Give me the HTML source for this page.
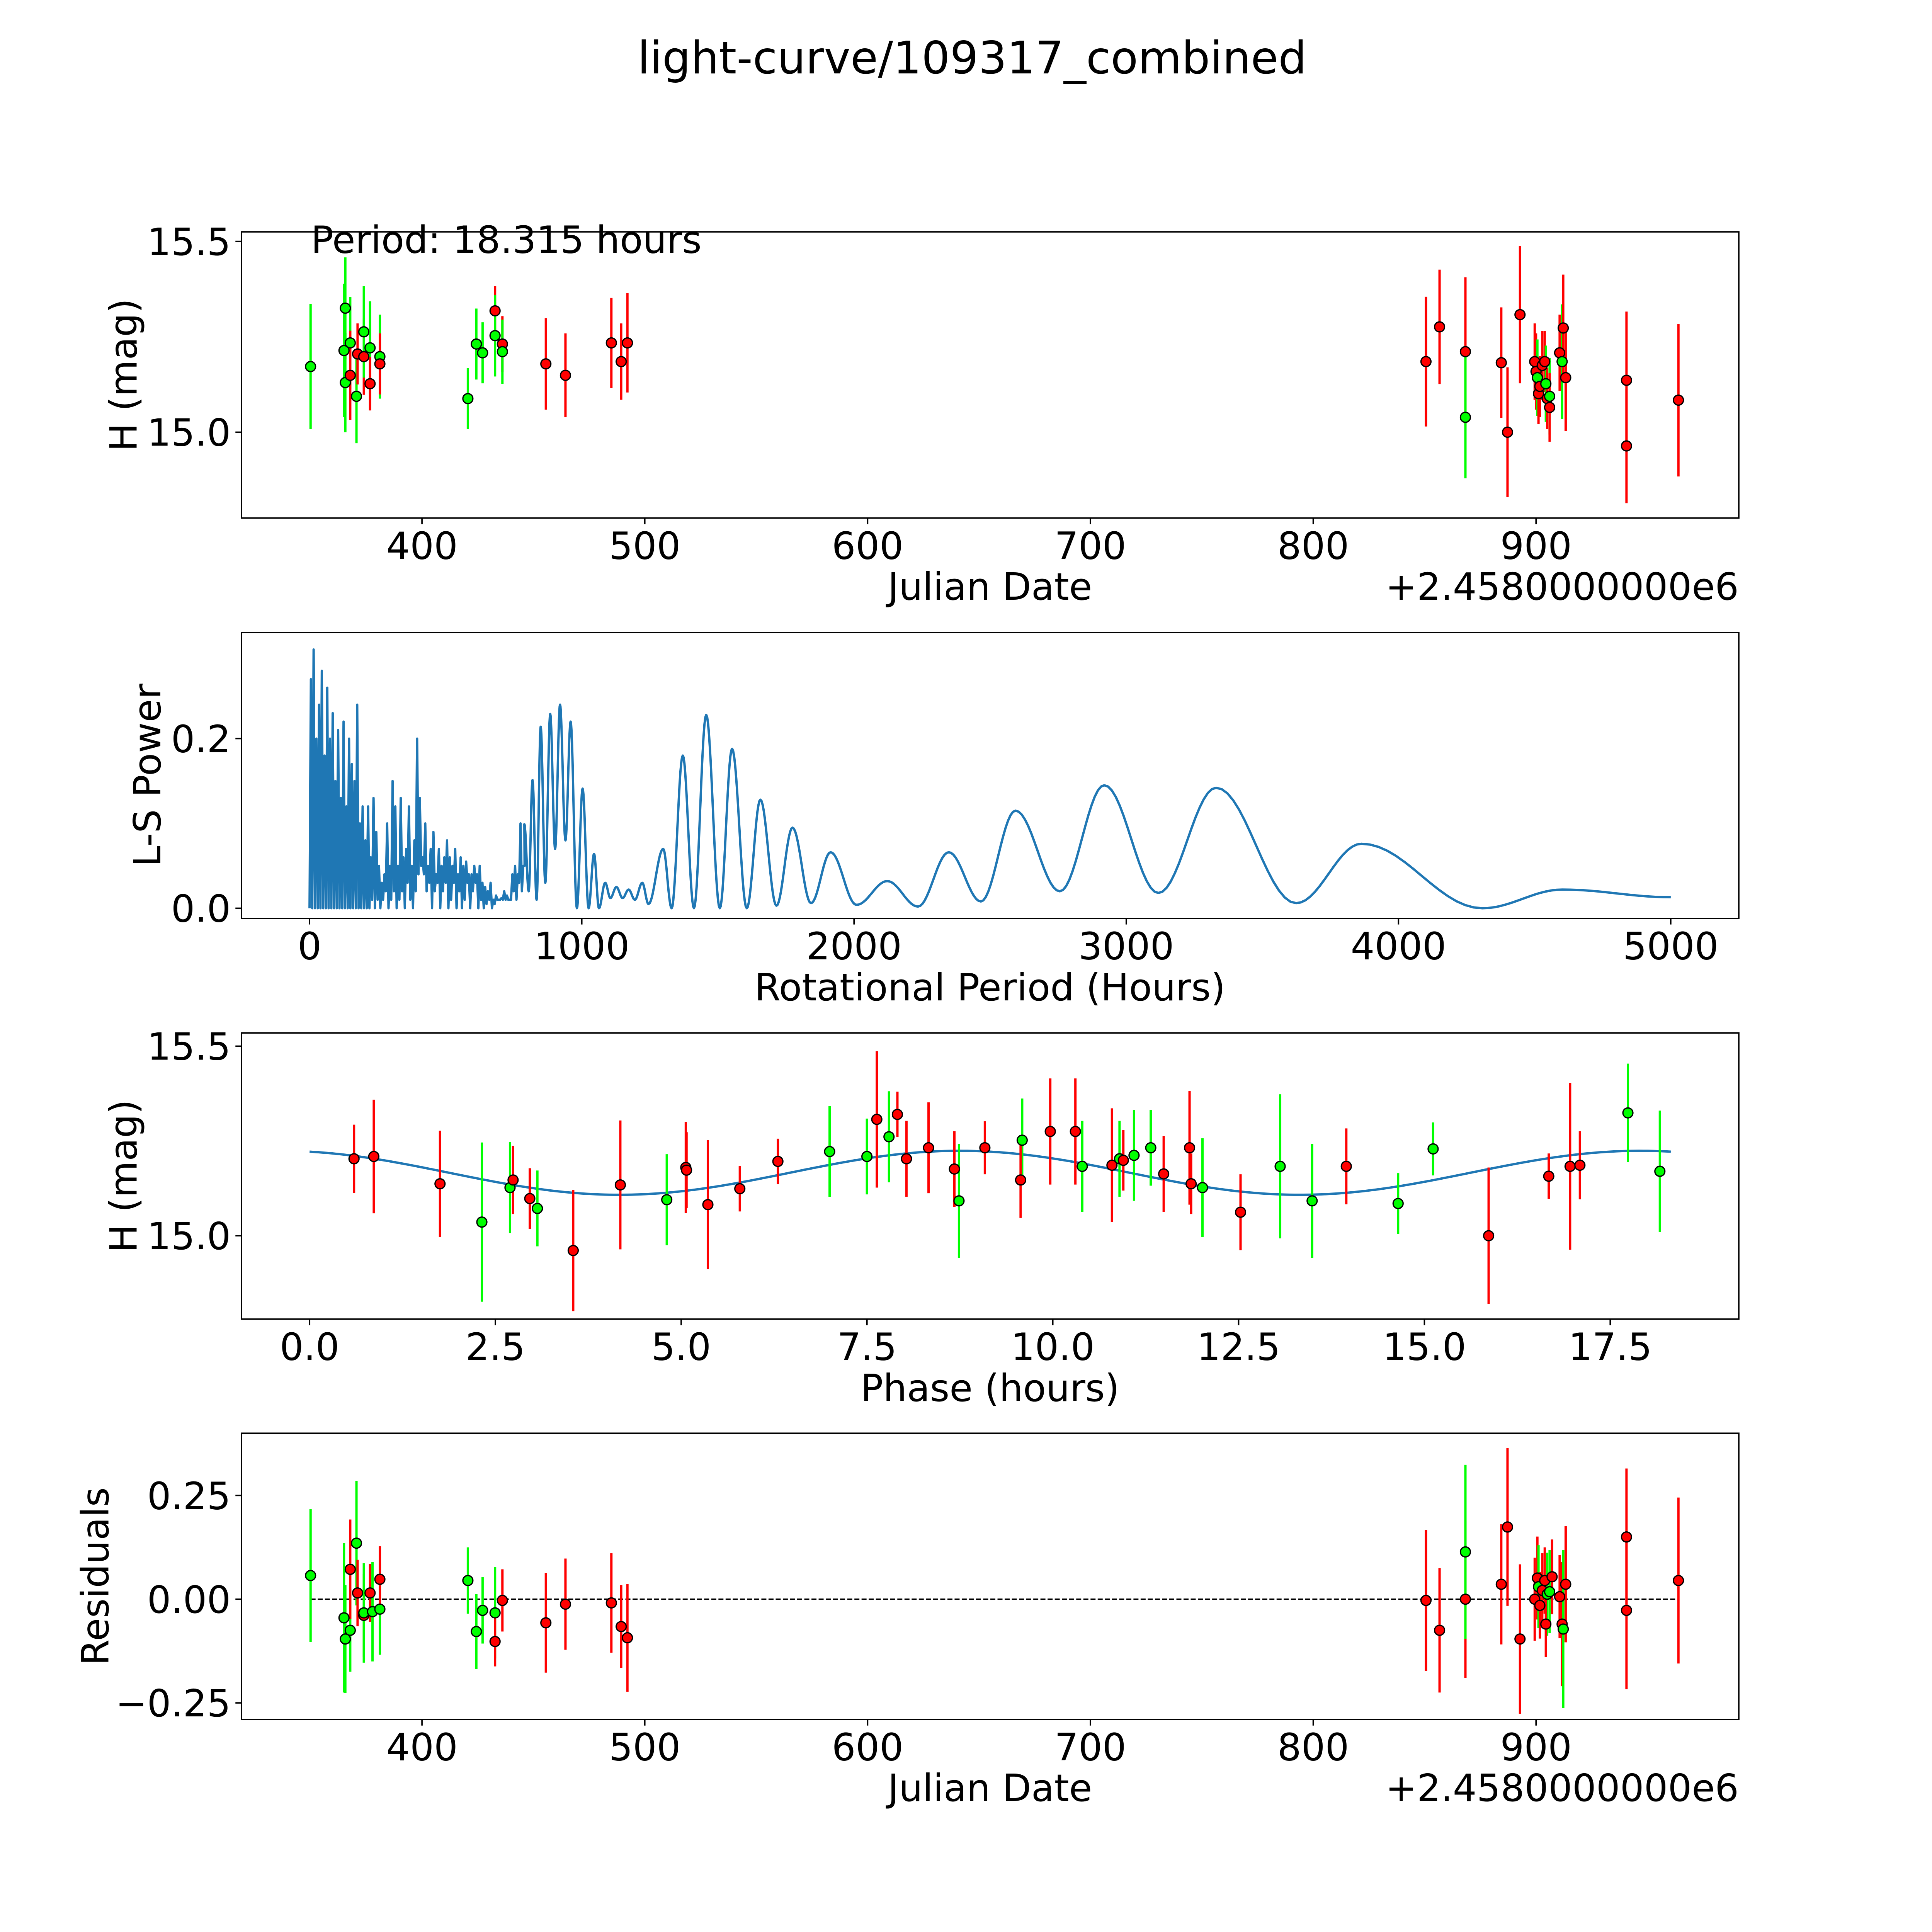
<!DOCTYPE html>
<html><head><meta charset="utf-8"><style>
html,body{margin:0;padding:0;background:#fff;overflow:hidden;width:100%;height:100%;}
svg{display:block;position:absolute;left:0;top:0;width:100vw;height:100vh;}
text{font-family:"DejaVu Sans","Liberation Sans",sans-serif;fill:#000;}
</style></head><body>
<svg id="fig" viewBox="0 0 5400 5400" preserveAspectRatio="none" xmlns="http://www.w3.org/2000/svg">
<rect width="5400" height="5400" fill="#fff"/>
<text x="2717" y="205" font-size="125" text-anchor="middle">light-curve/109317_combined</text>
</svg>
<script>
// ---- Panel 1: light curve (Julian Date) ----
const lcX=[350.0,365.6,365.0,365.6,367.8,367.8,370.6,371.1,373.9,373.9,376.7,376.7,381.1,381.1,420.6,424.4,427.2,432.8,432.8,436.1,436.1,455.6,464.4,485.0,489.4,492.2,850.6,856.7,868.3,868.3,884.4,887.2,892.8,899.4,900.0,900.6,901.1,901.7,902.8,903.9,904.4,905.0,906.1,906.1,910.6,911.7,912.2,913.3,940.6,940.6,963.9];
const lcY=[15.172,15.325,15.214,15.130,15.234,15.149,15.094,15.205,15.198,15.263,15.221,15.127,15.198,15.179,15.088,15.231,15.208,15.318,15.253,15.231,15.211,15.179,15.149,15.234,15.185,15.234,15.185,15.276,15.211,15.039,15.182,15.000,15.308,15.185,15.159,15.143,15.101,15.120,15.175,15.185,15.127,15.088,15.094,15.065,15.208,15.185,15.273,15.143,15.136,14.964,15.084];
const lcErr=[0.164,0.133,0.175,0.13,0.12,0.117,0.123,0.08,0.1,0.12,0.122,0.07,0.11,0.08,0.08,0.093,0.08,0.065,0.107,0.073,0.084,0.12,0.11,0.118,0.1,0.13,0.17,0.15,0.195,0.16,0.145,0.17,0.18,0.1,0.1,0.1,0.08,0.08,0.09,0.08,0.1,0.08,0.1,0.09,0.1,0.15,0.14,0.14,0.18,0.15,0.2];
const lcBand=["g","g","g","g","g","r","g","r","r","g","g","r","g","r","g","g","g","r","g","r","g","r","r","r","r","r","r","r","r","g","r","r","r","r","r","g","r","r","r","r","g","r","g","r","r","g","r","r","r","r","r"];
const lcXTicks=[400,500,600,700,800,900];
const lcYTicks=[15.0,15.5];

// ---- Panel 2: periodogram ----
const spikePeriodStep=10;
const spikePower=[0.27,0.305,0.2,0.24,0.28,0.18,0.26,0.2,0.23,0.15,0.21,0.13,0.22,0.12,0.2,0.17,0.15,0.24,0.1,0.12,0.08,
0.12,0.06,0.13,0.09,0.05,0.03,0.04,0.1,0.05,0.15,0.12,0.05,0.13,0.06,0.07,0.12,0.05,0.08,0.2,0.13,
0.06,0.1,0.05,0.07,0.09,0.04,0.07,0.05,0.06,0.08,0.06,0.05,0.07,0.04,0.06,0.05,0.055,0.04,0.04,0.05,
0.04,0.05,0.03,0.025,0.02,0.03,0.01,0.015,0.01,0.012,0.02,0.015,0.01,0.04,0.05,0.04,0.1,0.05];
const spikeTrough=[0,0,0,0,0,0,0,0,0,0,0,0,0,0,0,0,0,0,0,0,0,
0,0.01,0,0.01,0,0.01,0.02,0,0.01,0.02,0,0.01,0.02,0,0.03,0.01,0,0.02,0.04,0.05,
0.04,0.02,0.03,0,0.02,0.03,0,0.02,0.03,0,0.01,0.03,0,0.02,0,0.01,0.03,0,0.02,0.03,
0,0.01,0,0.005,0.01,0,0.005,0.01,0.01,0.01,0.01,0.01,0.01,0.02,0.01,0.03,0.02,0.05];
const lsPeriod=[789,805,819,834,849,866,884,902,920,940,959,982,1003,1025,1045,1063,1086,1105,1127,1150,1172,1195,1222,1245,1299,1330,1371,1412,1457,1507,1552,1606,1656,1715,1774,1842,1914,2009,2122,2235,2348,2466,2593,2756,2919,3118,3330,3624,3864,4308,4602,5000];
const lsPower=[0.099,0.02,0.151,0.01,0.214,0.03,0.229,0.07,0.24,0.08,0.22,0,0.141,0,0.064,0,0.03,0.012,0.025,0.012,0.022,0.01,0.03,0.005,0.07,0,0.18,0,0.228,0,0.188,0,0.128,0.003,0.095,0.006,0.066,0.004,0.032,0.002,0.066,0.008,0.115,0.02,0.145,0.018,0.142,0.006,0.076,0,0.022,0.013];
const lsXTicks=[0,1000,2000,3000,4000,5000];
const lsYTicks=[0.0,0.2];

// ---- Panel 3: phased ----
const phX=[0.598,0.864,1.755,2.318,2.697,2.738,2.963,3.065,3.547,4.181,4.806,5.062,5.072,5.359,5.789,6.301,6.997,7.499,7.632,7.796,7.909,8.031,8.328,8.676,8.738,9.086,9.588,9.567,9.966,10.304,10.396,10.796,10.898,10.949,11.093,11.318,11.492,11.840,11.861,12.014,12.526,13.059,13.489,13.949,14.646,15.117,15.864,16.673,16.960,17.092,17.738,18.168];
const phY=[15.203,15.209,15.137,15.036,15.127,15.147,15.098,15.072,14.961,15.134,15.095,15.18,15.173,15.082,15.124,15.196,15.222,15.209,15.307,15.261,15.320,15.203,15.232,15.176,15.092,15.232,15.252,15.147,15.275,15.275,15.183,15.186,15.203,15.199,15.212,15.232,15.163,15.232,15.137,15.127,15.062,15.183,15.092,15.183,15.085,15.229,15.0,15.157,15.183,15.186,15.324,15.17];
const phErr=[0.09,0.15,0.14,0.21,0.12,0.09,0.08,0.1,0.16,0.17,0.12,0.12,0.1,0.17,0.06,0.06,0.12,0.1,0.18,0.12,0.06,0.1,0.12,0.1,0.15,0.07,0.11,0.1,0.14,0.14,0.12,0.15,0.1,0.08,0.12,0.1,0.1,0.15,0.08,0.13,0.1,0.19,0.15,0.1,0.08,0.07,0.18,0.06,0.22,0.09,0.13,0.16];
const phBand=["r","r","r","g","g","r","r","g","r","r","g","r","r","r","r","r","g","g","r","g","r","r","r","r","g","r","g","r","r","r","g","r","g","r","g","g","r","r","r","g","r","g","g","r","g","g","r","r","r","r","g","g"];
const fitMean=[15.166];
const fitAmp=[0.058];
const fitPeriod=[9.1575];
const fitPhase0=[-0.41];
const fitRange=[0,18.315];
const phXTicks=[0,2.5,5,7.5,10,12.5,15,17.5];
const phXLabels=["0.0","2.5","5.0","7.5","10.0","12.5","15.0","17.5"];

// ---- Panel 4: residuals ----
const rsX=[350.0,365.0,365.6,367.8,367.8,370.6,371.1,373.9,373.9,376.7,377.8,381.1,381.1,420.6,424.4,427.2,432.8,432.8,436.1,455.6,464.4,485.0,489.4,492.2,850.6,856.7,868.3,868.3,884.4,887.2,892.8,899.4,900.6,901.1,901.7,902.8,903.9,905.0,904.4,906.1,907.2,910.6,911.7,912.2,913.3,940.6,940.6,963.9];
const rsY=[0.057,-0.045,-0.096,-0.075,0.072,0.135,0.015,-0.039,-0.033,0.015,-0.03,-0.024,0.048,0.045,-0.078,-0.027,-0.033,-0.102,-0.003,-0.057,-0.012,-0.009,-0.066,-0.093,-0.003,-0.075,0,0.114,0.036,0.174,-0.096,0,0.051,0.03,-0.015,0.021,0.045,0.012,-0.06,0.018,0.054,0.006,-0.06,-0.072,0.036,0.15,-0.027,0.045];
const rsErr=[0.16,0.18,0.13,0.1,0.12,0.15,0.08,0.1,0.12,0.07,0.12,0.11,0.08,0.08,0.09,0.08,0.11,0.06,0.075,0.12,0.11,0.12,0.1,0.13,0.17,0.15,0.19,0.21,0.145,0.19,0.18,0.1,0.1,0.1,0.08,0.09,0.08,0.1,0.08,0.1,0.09,0.1,0.15,0.19,0.14,0.165,0.19,0.2];
const rsBand=["g","g","g","g","r","g","r","r","g","r","g","g","r","g","g","g","g","r","r","r","r","r","r","r","r","r","r","g","r","r","r","r","r","g","r","r","r","g","r","g","r","r","r","g","r","r","r","r"];
const rsYTicks=[-0.25,0,0.25];
const rsYLabels=["\u22120.25","0.00","0.25"];

const NS="http://www.w3.org/2000/svg";
const svg=document.getElementById('fig');
function mk(tag,attrs,parent){const e=document.createElementNS(NS,tag);for(const k in attrs)e.setAttribute(k,attrs[k]);(parent||svg).appendChild(e);return e;}
const L=675,R=4860,FS=105;
function axis(top,bottom,xmin,xmax,ymin,ymax){
  return {top,bottom,sx:v=>L+(v-xmin)/(xmax-xmin)*(R-L),sy:v=>bottom-(v-ymin)/(ymax-ymin)*(bottom-top)};
}
const col={g:"#00ff00",r:"#ff0000"};
function frame(ax,name,g){
  const f=mk('rect',{x:L,y:ax.top,width:R-L,height:ax.bottom-ax.top,fill:'none',stroke:'#000','stroke-width':4},g);
  
  
}
function xticks(ax,ticks,labels,g,name){
  ticks.forEach((t,i)=>{const x=ax.sx(t);
    const l=mk('line',{x1:x,x2:x,y1:ax.bottom,y2:ax.bottom+17,stroke:'#000','stroke-width':4},g);
    
    
    const tx=mk('text',{x:x,y:ax.bottom+114,'font-size':FS,'text-anchor':'middle'},g);
    tx.textContent=labels[i];
    
    
  });
}
function yticks(ax,ticks,labels,g,name){
  ticks.forEach((t,i)=>{const y=ax.sy(t);
    const l=mk('line',{x1:L-17,x2:L,y1:y,y2:y,stroke:'#000','stroke-width':4},g);
    
    
    const tx=mk('text',{x:L-30,y:y+38,'font-size':FS,'text-anchor':'end'},g);
    tx.textContent=labels[i];
    
    
  });
}
function label(txt,x,y,rot,g,name,anchor){
  const t=mk('text',{x:x,y:y,'font-size':FS,'text-anchor':anchor||'middle'},g);
  if(rot)t.setAttribute('transform','rotate(-90 '+x+' '+y+')');
  t.textContent=txt;
  
  
  return t;
}
function points(ax,xs,ys,es,bands,g,name){
  xs.forEach((xv,i)=>{const x=ax.sx(xv);
    const l=mk('line',{x1:x,x2:x,y1:ax.sy(ys[i]+es[i]),y2:ax.sy(ys[i]-es[i]),stroke:col[bands[i]],'stroke-width':6.5},g);
    
    
  });
  xs.forEach((xv,i)=>{
    const c=mk('circle',{cx:ax.sx(xv),cy:ax.sy(ys[i]),r:14,fill:col[bands[i]],stroke:'#000','stroke-width':3.5},g);
    
    
  });
}
function group(name){const g=mk('g',{});return g;}

// Panel 1
const g1=group('light-curve-panel');
const a1=axis(648,1448,319,991,14.775,15.525);
points(a1,lcX,lcY,lcErr,lcBand,g1,'light-curve');
frame(a1,'light-curve',g1);
xticks(a1,lcXTicks,lcXTicks.map(String),g1,'light-curve');
yticks(a1,lcYTicks,lcYTicks.map(v=>v.toFixed(1)),g1,'light-curve');
label('Julian Date',2767,1676,false,g1,'light-curve-x-axis-title');
label('+2.4580000000e6',4860,1676,false,g1,'light-curve-x-offset-text','end');
label('H (mag)',382,1048,true,g1,'light-curve-y-axis-title');
label('Period: 18.315 hours',869,707,false,g1,'period-annotation','start');

// Panel 2
const g2=group('periodogram-panel');
const a2=axis(1768,2567,-250,5250,-0.012,0.325);
let d='M'+a2.sx(0)+' '+a2.sy(0);
spikePower.forEach((p,i)=>{const x0=i*spikePeriodStep;
  d+=' L'+a2.sx(x0+spikePeriodStep*0.5).toFixed(1)+' '+a2.sy(p).toFixed(1)+' L'+a2.sx(x0+spikePeriodStep).toFixed(1)+' '+a2.sy(spikeTrough[i]).toFixed(1);});
for(let i=0;i<lsPeriod.length;i++){
  if(i===0){d+=' L'+a2.sx(lsPeriod[0])+' '+a2.sy(lsPower[0]);continue;}
  const x0=lsPeriod[i-1],x1=lsPeriod[i],y0=lsPower[i-1],y1=lsPower[i];
  for(let k=1;k<=14;k++){const t=k/14,s=(1-Math.cos(Math.PI*t))/2;
    d+=' L'+a2.sx(x0+(x1-x0)*t).toFixed(1)+' '+a2.sy(y0+(y1-y0)*s).toFixed(1);}
}
const ls=mk('path',{d:d,fill:'none',stroke:'#1f77b4','stroke-width':6.5,'stroke-linejoin':'round'},g2);


frame(a2,'periodogram',g2);
xticks(a2,lsXTicks,lsXTicks.map(String),g2,'periodogram');
yticks(a2,lsYTicks,lsYTicks.map(v=>v.toFixed(1)),g2,'periodogram');
label('Rotational Period (Hours)',2767,2796,false,g2,'periodogram-x-axis-title');
label('L-S Power',448,2167,true,g2,'periodogram-y-axis-title');

// Panel 3
const g3=group('phased-panel');
const a3=axis(2887,3687,-0.916,19.23,14.78,15.535);
let fd='';
for(let k=0;k<=300;k++){const t=fitRange[0]+(fitRange[1]-fitRange[0])*k/300;
  const v=fitMean[0]+fitAmp[0]*Math.cos(2*Math.PI*(t-fitPhase0[0])/fitPeriod[0]);
  fd+=(k?' L':'M')+a3.sx(t).toFixed(1)+' '+a3.sy(v).toFixed(1);}
const fit=mk('path',{d:fd,fill:'none',stroke:'#1f77b4','stroke-width':6.5},g3);


points(a3,phX,phY,phErr,phBand,g3,'phased');
frame(a3,'phased',g3);
xticks(a3,phXTicks,phXLabels,g3,'phased');
yticks(a3,lcYTicks,lcYTicks.map(v=>v.toFixed(1)),g3,'phased');
label('Phase (hours)',2767,3916,false,g3,'phased-x-axis-title');
label('H (mag)',382,3287,true,g3,'phased-y-axis-title');

// Panel 4
const g4=group('residuals-panel');
const a4=axis(4006,4806,319,991,-0.29,0.40);
const z=mk('line',{x1:a4.sx(350),x2:a4.sx(963.9),y1:a4.sy(0),y2:a4.sy(0),stroke:'#000','stroke-width':4,'stroke-dasharray':'14 6'},g4);


points(a4,rsX,rsY,rsErr,rsBand,g4,'residuals');
frame(a4,'residuals',g4);
xticks(a4,lcXTicks,lcXTicks.map(String),g4,'residuals');
yticks(a4,rsYTicks,rsYLabels,g4,'residuals');
label('Julian Date',2767,5034,false,g4,'residuals-x-axis-title');
label('+2.4580000000e6',4860,5034,false,g4,'residuals-x-offset-text','end');
label('Residuals',303,4406,true,g4,'residuals-y-axis-title');
</script>
</body></html>
